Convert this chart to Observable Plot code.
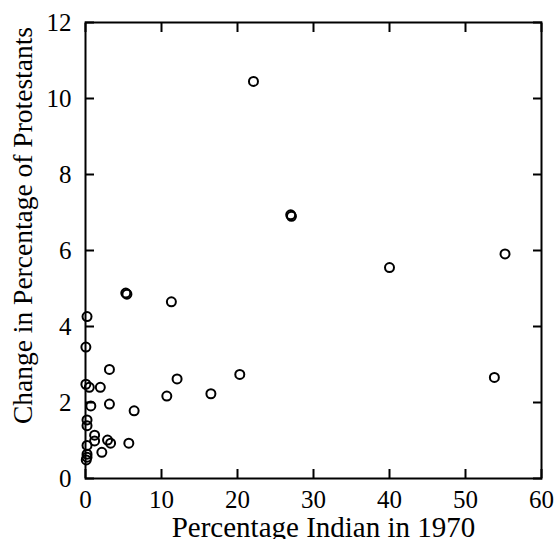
<!DOCTYPE html>
<html>
<head>
<meta charset="utf-8">
<script src="https://cdn.jsdelivr.net/npm/d3@7"></script>
<script src="https://cdn.jsdelivr.net/npm/@observablehq/plot@0.6"></script>
<style>
  html, body { margin: 0; padding: 0; background: #fff; }
</style>
</head>
<body>
<div id="chart"></div>
<script>
// Percentage Indian in 1970 (x) vs change in percentage of Protestants (y)
const pctIndian = [0.2, 0.05, 3.15, 12.05, 0.05, 0.5, 1.95, 10.7, 16.5, 20.3, 0.7, 3.15, 6.4, 0.2, 0.2, 1.2, 1.2, 2.9, 3.3, 5.7, 0.2, 2.15, 0.2, 0.2, 0.1, 5.3, 5.45, 11.3, 22.1, 27.0, 27.1, 40.0, 55.2, 53.8];
const changeProt = [4.26, 3.46, 2.87, 2.62, 2.48, 2.40, 2.40, 2.17, 2.23, 2.74, 1.91, 1.96, 1.78, 1.54, 1.39, 1.14, 0.99, 1.01, 0.93, 0.93, 0.87, 0.69, 0.64, 0.56, 0.49, 4.88, 4.85, 4.65, 10.45, 6.94, 6.90, 5.55, 5.91, 2.66];
const xTicks = [0, 10, 20, 30, 40, 50, 60];
const yTicks = [0, 2, 4, 6, 8, 10, 12];
const xLabel = "Percentage Indian in 1970";
const yLabel = "Change in Percentage of Protestants";

const points = pctIndian.map((x, i) => ({x, y: changeProt[i]}));

const chart = Plot.plot({
  width: 557,
  height: 539,
  marginLeft: 85,
  marginRight: 16,
  marginTop: 22,
  marginBottom: 61,
  style: {fontFamily: "'Liberation Serif', 'Times New Roman', serif", fontSize: "25px", color: "black", background: "white"},
  x: {domain: [0, 60]},
  y: {domain: [0, 12]},
  marks: [
    Plot.frame({stroke: "black", strokeWidth: 2}),
    Plot.axisX(xTicks, {anchor: "bottom", tickSize: -9, tickPadding: 21, strokeWidth: 2, fontSize: 25, label: null}),
    Plot.axisX(xTicks, {anchor: "top", tickSize: -9, strokeWidth: 2, tickFormat: () => "", label: null}),
    Plot.axisY(yTicks, {anchor: "left", tickSize: -9, tickPadding: 23, strokeWidth: 2, fontSize: 25, label: null}),
    Plot.axisY(yTicks, {anchor: "right", tickSize: -9, strokeWidth: 2, tickFormat: () => "", label: null}),
    Plot.text([xLabel], {frameAnchor: "bottom", textAnchor: "middle", lineAnchor: "top", dx: 10, dy: 38, fontSize: 29, fill: "black"}),
    Plot.text([yLabel], {frameAnchor: "left", textAnchor: "middle", lineAnchor: "middle", rotate: -90, dx: -62, dy: -25, fontSize: 27.5, fill: "black"}),
    Plot.dot(points, {x: "x", y: "y", r: 4.5, stroke: "black", strokeWidth: 2, fill: "none"})
  ]
});
document.getElementById("chart").appendChild(chart);
</script>
</body>
</html>
